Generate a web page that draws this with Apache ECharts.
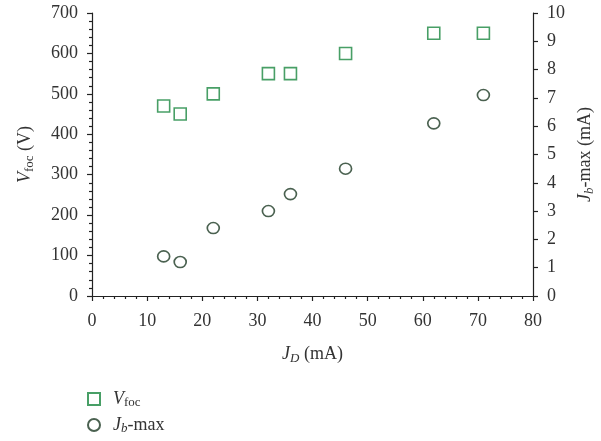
<!DOCTYPE html>
<html><head><meta charset="utf-8">
<script src="https://cdn.jsdelivr.net/npm/echarts@6/dist/echarts.min.js"></script>
<style>html,body{margin:0;padding:0;background:#fff}#c{width:601px;height:441px}</style>
</head><body><div id="c"></div>
<script>
const jd = [13, 16, 22, 32, 36, 46, 62, 71];
const vfoc = [470, 450, 500, 550, 550, 600, 650, 650];
const jbmax = [1.4, 1.2, 2.4, 3.0, 3.6, 4.5, 6.1, 7.1];
const xTicks = [0, 10, 20, 30, 40, 50, 60, 70, 80];
const yLeftTicks = [0, 100, 200, 300, 400, 500, 600, 700];
const yRightTicks = [0, 1, 2, 3, 4, 5, 6, 7, 8, 9, 10];

const FONT = '"Liberation Serif", "DejaVu Serif", serif';
const TXT = '#333';
const GREEN = '#1a8740';
const DARK = '#1d3a24';
const FS = 18;
const rich = {
  n: {fontFamily: FONT, fontSize: FS, color: TXT},
  i: {fontFamily: FONT, fontSize: FS, fontStyle: 'italic', color: TXT},
  s: {fontFamily: FONT, fontSize: 13, color: TXT, padding: [8, 0, 0, 0]},
  si: {fontFamily: FONT, fontSize: 13, fontStyle: 'italic', color: TXT, padding: [8, 0, 0, 0]}
};
const axisCommon = {
  axisLine: {show: true, lineStyle: {color: '#222', width: 1.2}},
  axisTick: {show: true, inside: false, length: 5, lineStyle: {color: '#222', width: 1.2}},
  axisLabel: {fontFamily: FONT, fontSize: FS, color: TXT},
  splitLine: {show: false}
};
const legendCommon = {
  orient: 'vertical', left: 82, itemWidth: 12, itemHeight: 12,
  formatter: function (n) { return n === 'vfoc' ? '{i|V}{s|foc}' : '{i|J}{si|b}{n|-max}'; },
  textStyle: {rich: rich, padding: [0, 0, 0, 8]}
};
const chart = echarts.init(document.getElementById('c'));
chart.setOption({
  animation: false,
  grid: {left: 92, right: 68, top: 13, bottom: 145, containLabel: false, outerBoundsMode: 'none'},
  legend: [
    Object.assign({}, legendCommon, {top: 385, data: ['vfoc']}),
    Object.assign({}, legendCommon, {top: 411, data: ['jb']})
  ],
  xAxis: Object.assign({}, axisCommon, {
    type: 'value', min: xTicks[0], max: xTicks[xTicks.length - 1], interval: 10,
    minorTick: {show: true, splitNumber: 5, length: 3, lineStyle: {color: '#222', width: 1.2}},
    axisLabel: Object.assign({}, axisCommon.axisLabel, {margin: 16}),
    name: '{i|J}{si|D}{n| (mA)}', nameLocation: 'middle', nameGap: 48,
    nameTextStyle: {rich: rich}
  }),
  yAxis: [
    Object.assign({}, axisCommon, {
      type: 'value', min: yLeftTicks[0], max: yLeftTicks[yLeftTicks.length - 1], interval: 100,
      minorTick: {show: true, splitNumber: 5, length: 3, lineStyle: {color: '#222', width: 1.2}},
      axisLabel: Object.assign({}, axisCommon.axisLabel, {margin: 14}),
      name: '{i|V}{s|foc}{n| (V)}', nameLocation: 'middle', nameGap: 56, nameRotate: 90,
      nameTextStyle: {rich: rich}
    }),
    Object.assign({}, axisCommon, {
      type: 'value', position: 'right', min: yRightTicks[0], max: yRightTicks[yRightTicks.length - 1], interval: 1,
      axisLabel: Object.assign({}, axisCommon.axisLabel, {margin: 14}),
      name: '{i|J}{si|b}{n|-max (mA)}', nameLocation: 'middle', nameGap: 42, nameRotate: 90,
      nameTextStyle: {rich: rich}
    })
  ],
  series: [
    {
      name: 'vfoc', type: 'scatter', yAxisIndex: 0, symbol: 'rect', symbolSize: 12,
      itemStyle: {color: '#fff', borderColor: GREEN, borderWidth: 1.6},
      data: jd.map((x, k) => [x, vfoc[k]])
    },
    {
      name: 'jb', type: 'scatter', yAxisIndex: 1, symbol: 'circle', symbolSize: [12, 11],
      itemStyle: {color: '#fff', borderColor: DARK, borderWidth: 1.6},
      data: jd.map((x, k) => [x, jbmax[k]])
    }
  ]
});
</script></body></html>
